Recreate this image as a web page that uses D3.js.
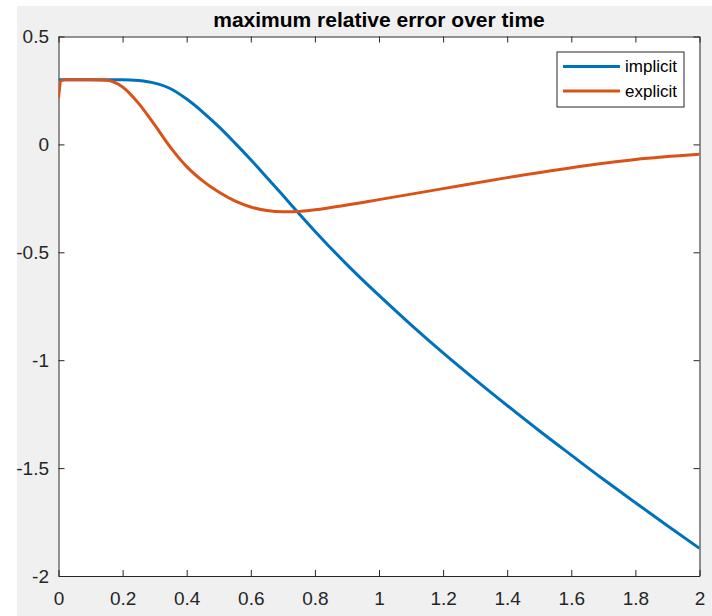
<!DOCTYPE html>
<html>
<head>
<meta charset="utf-8">
<script src="https://cdnjs.cloudflare.com/ajax/libs/d3/7.8.5/d3.min.js"></script>
<style>
  body { margin: 0; background: #ffffff; }
  .chart text { font-family: Arial, "Liberation Sans", Helvetica, sans-serif; }
  .tick text { fill: #262626; font-size: 19px; }
  .tick line, .domain { stroke: #262626; }
</style>
</head>
<body>
<div class="chart"></div>
<script>
// Data
var implicitT = [0, 0.1, 0.2, 0.25, 0.3, 0.35, 0.4, 0.45, 0.5, 0.55, 0.6, 0.65, 0.7, 0.75,
    0.8, 0.9, 1.0, 1.1, 1.2, 1.3, 1.4, 1.5, 1.6, 1.7, 1.8, 1.9, 2.0];
var implicitErr = [0.30, 0.30, 0.30, 0.296, 0.284, 0.258, 0.21, 0.15, 0.082, 0.007, -0.071, -0.153, -0.236, -0.32,
    -0.402, -0.557, -0.70, -0.836, -0.966, -1.09, -1.21, -1.327, -1.44, -1.552, -1.66, -1.767, -1.872];

var explicitT = [0, 0.008, 0.02, 0.1, 0.15, 0.2, 0.25, 0.3, 0.35, 0.4, 0.45, 0.5, 0.55, 0.6,
    0.65, 0.7, 0.75, 0.8, 0.9, 1.0, 1.2, 1.4, 1.6, 1.8, 2.0];
var explicitErr = [0.213, 0.295, 0.30, 0.30, 0.297, 0.266, 0.19, 0.09, -0.015, -0.103, -0.169, -0.221, -0.262, -0.29,
    -0.306, -0.312, -0.311, -0.303, -0.281, -0.256, -0.205, -0.154, -0.108, -0.070, -0.046];

var seriesNames = ["implicit", "explicit"];
var seriesColors = ["#0072BD", "#D95319"];

var xTicks = [0, 0.2, 0.4, 0.6, 0.8, 1, 1.2, 1.4, 1.6, 1.8, 2];
var yTicks = [0.5, 0, -0.5, -1, -1.5, -2];

// Set up our chart
var svgWidth = 712;
var svgHeight = 616;

var margin = {
    top: 36.5,
    bottom: 40,
    right: 12.5,
    left: 58.5
};

var width = svgWidth - margin.left - margin.right;
var height = svgHeight - margin.top - margin.bottom;

var svg = d3.select(".chart")
    .append("svg")
    .attr("width", svgWidth)
    .attr("height", svgHeight);

// grey figure background
svg.append("rect")
    .attr("x", 17)
    .attr("y", 6)
    .attr("width", svgWidth - 17)
    .attr("height", svgHeight - 6)
    .attr("fill", "#f0f0f0");

var chartGroup = svg.append("g")
    .attr("transform", `translate(${margin.left}, ${margin.top})`);

chartGroup.append("rect")
    .attr("width", width)
    .attr("height", height)
    .attr("fill", "#ffffff");

// Create scales
var xLinearScale = d3.scaleLinear()
    .domain([0, 2])
    .range([0, width]);

var yLinearScale = d3.scaleLinear()
    .domain([-2, 0.5])
    .range([height, 0]);

// Axes, ticks point inward like matlab
var fmt = d => String(d);

chartGroup.append("g")
    .attr("transform", `translate(0, ${height})`)
    .call(d3.axisBottom(xLinearScale).tickValues(xTicks).tickFormat(fmt)
        .tickSizeInner(-6).tickSizeOuter(0).tickPadding(15.5));

chartGroup.append("g")
    .call(d3.axisLeft(yLinearScale).tickValues(yTicks).tickFormat(fmt)
        .tickSizeInner(-6).tickSizeOuter(0).tickPadding(9.5));

chartGroup.append("g")
    .call(d3.axisTop(xLinearScale).tickValues(xTicks).tickFormat("")
        .tickSizeInner(-6).tickSizeOuter(0));

chartGroup.append("g")
    .attr("transform", `translate(${width}, 0)`)
    .call(d3.axisRight(yLinearScale).tickValues(yTicks).tickFormat("")
        .tickSizeInner(-6).tickSizeOuter(0));

chartGroup.selectAll(".tick text").attr("font-size", null);

// Lines
chartGroup.append("clipPath")
    .attr("id", "plotClip")
    .append("rect")
    .attr("width", width)
    .attr("height", height);

var line = d3.line()
    .x(d => xLinearScale(d[0]))
    .y(d => yLinearScale(d[1]))
    .curve(d3.curveMonotoneX);

var series = [
    d3.zip(implicitT, implicitErr),
    d3.zip(explicitT, explicitErr)
];

chartGroup.selectAll(".series")
    .data(series)
    .enter()
    .append("path")
    .attr("class", "series")
    .attr("clip-path", "url(#plotClip)")
    .attr("d", line)
    .attr("fill", "none")
    .attr("stroke", (d, i) => seriesColors[i])
    .attr("stroke-width", 3)
    .attr("stroke-linejoin", "round");

// Title
chartGroup.append("text")
    .attr("x", width / 2)
    .attr("y", -10)
    .attr("text-anchor", "middle")
    .attr("font-size", "21px")
    .attr("font-weight", "bold")
    .attr("fill", "#000000")
    .text("maximum relative error over time");

// Legend
var legend = svg.append("g")
    .attr("transform", "translate(557, 52)");

legend.append("rect")
    .attr("width", 127)
    .attr("height", 55)
    .attr("fill", "#ffffff")
    .attr("stroke", "#262626")
    .attr("stroke-width", 1);

var items = legend.selectAll(".item")
    .data(seriesNames)
    .enter()
    .append("g")
    .attr("class", "item")
    .attr("transform", (d, i) => `translate(0, ${14.5 + i * 24.5})`);

items.append("line")
    .attr("x1", 6)
    .attr("x2", 63)
    .attr("stroke", (d, i) => seriesColors[i])
    .attr("stroke-width", 3);

items.append("text")
    .attr("x", 68)
    .attr("dy", "0.35em")
    .attr("font-size", "17px")
    .attr("fill", "#000000")
    .text(d => d);
</script>
</body>
</html>
